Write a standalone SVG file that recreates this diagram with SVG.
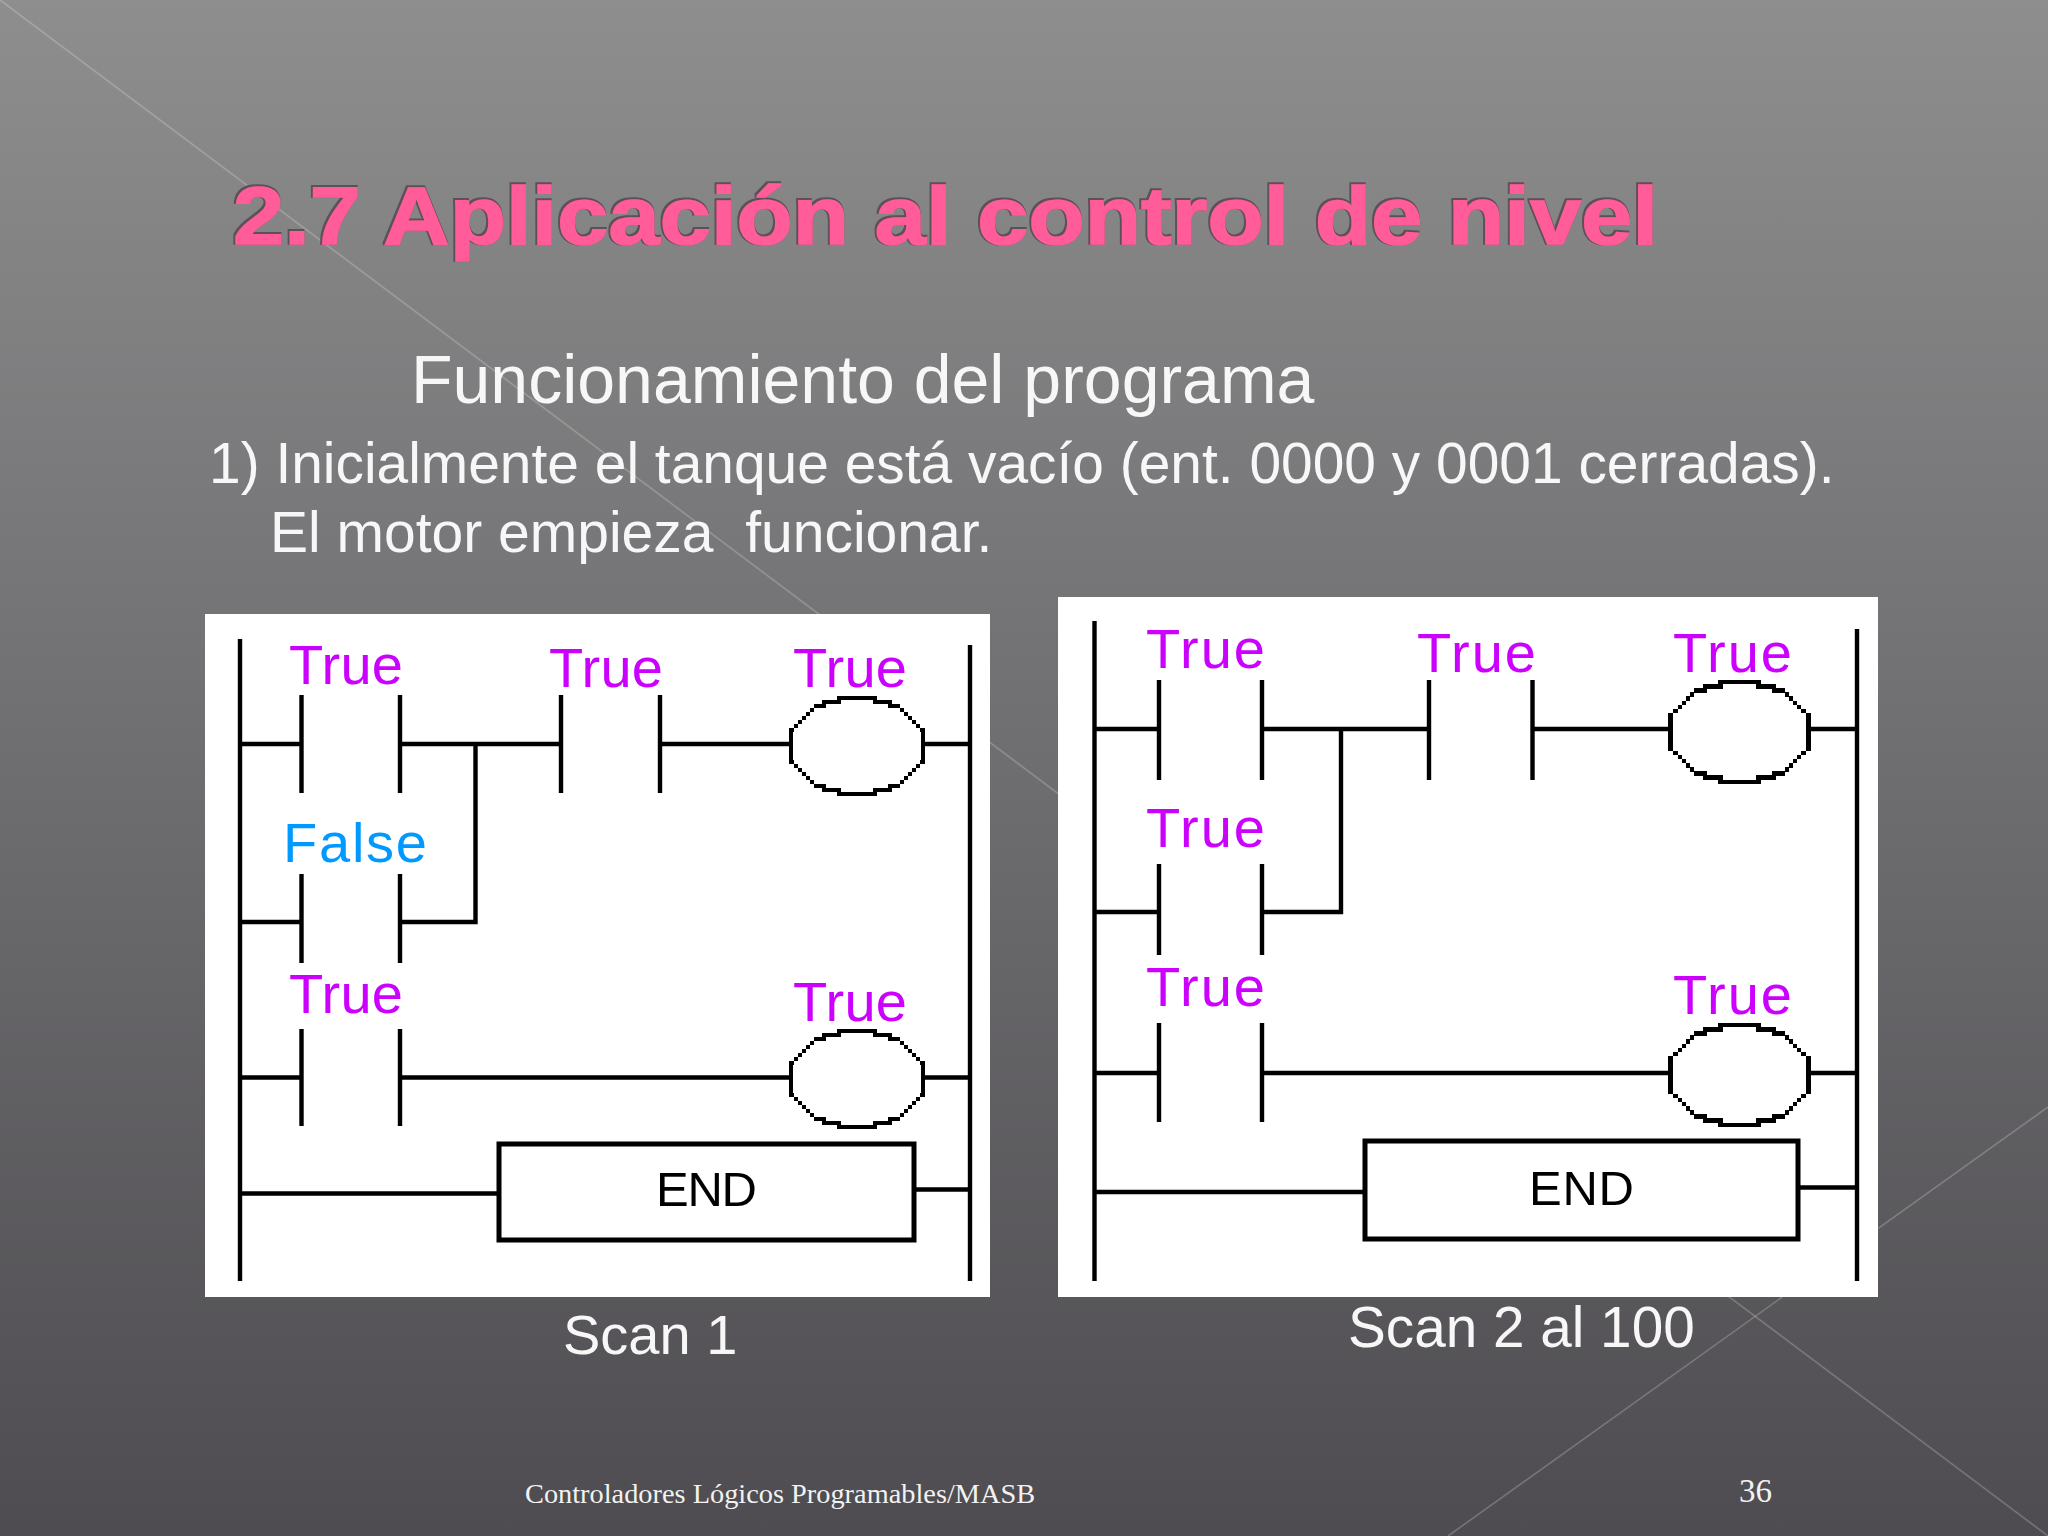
<svg xmlns="http://www.w3.org/2000/svg" width="2048" height="1536" viewBox="0 0 2048 1536">
<style>
.body{fill:#f7f7f7;font-family:"Liberation Sans",Arial,sans-serif;white-space:pre}
.foot{fill:#f2f2f2;font-family:"Liberation Serif","Times New Roman",serif}
.title{fill:#ff5c99;stroke:#ff5c99;stroke-width:1.500;font-family:"Liberation Sans",Arial,sans-serif;font-weight:700;font-size:82px}
.panel{fill:#fff}
.w{stroke:#000;stroke-width:4.4;fill:none}
.box{stroke:#000;stroke-width:5;fill:#fff}
.t{fill:#cc00ff;font-family:"Liberation Sans",Arial,sans-serif;font-size:56px}
.f{fill:#0099ff;font-family:"Liberation Sans",Arial,sans-serif;font-size:56px}
.e{fill:#000;font-family:"Liberation Sans",Arial,sans-serif;font-size:49px}
.bgl{stroke:#fff;stroke-opacity:.22;stroke-width:1.6}
</style>
<defs>
<linearGradient id="bg" x1="0" y1="0" x2="0" y2="1"><stop offset="0" stop-color="#8e8e8e"/><stop offset=".5" stop-color="#6e6d70"/><stop offset="1" stop-color="#4e4c50"/></linearGradient>
<filter id="titlefx" x="-2%" y="-10%" width="104%" height="120%">
<feMorphology in="SourceAlpha" operator="dilate" radius="1.200" result="d"/>
<feOffset in="d" dx="-1" dy="-1.500" result="o"/>
<feGaussianBlur in="o" stdDeviation=".7" result="b"/>
<feFlood flood-color="#5a4a52" flood-opacity=".9"/>
<feComposite in2="b" operator="in" result="s"/>
<feMerge><feMergeNode in="s"/><feMergeNode in="SourceGraphic"/></feMerge>
</filter>
<path id="q" class="w" shape-rendering="crispEdges" d="M0 -48H18V-44H33V-40H43M43 -36H47M47 -32H51M51 -28H55M55 -24H59M59 -20H63M63 -16H66V0"/>
<g id="coil"><use href="#q"/><use href="#q" transform="scale(-1,1)"/><use href="#q" transform="scale(1,-1)"/><use href="#q" transform="scale(-1,-1)"/></g>
</defs>
<rect width="2048" height="1536" fill="url(#bg)"/>
<g id="background-lines"><line class="bgl" x1="0" y1="0" x2="2048" y2="1536"/><line class="bgl" x1="2048" y1="1107" x2="1448" y2="1536"/></g>
<text id="title" class="title" x="233" y="244" textLength="1425" lengthAdjust="spacingAndGlyphs" filter="url(#titlefx)">2.7 Aplicación al control de nivel</text>
<text id="subtitle" class="body" x="411" y="403" font-size="68">Funcionamiento del programa</text>
<text id="line1" class="body" x="209" y="483" font-size="56.900">1) Inicialmente el tanque está vacío (ent. 0000 y 0001 cerradas).</text>
<text id="line2" class="body" x="270" y="552" font-size="57">El motor empieza  funcionar.</text>

<g id="scan1">
<rect class="panel" x="205" y="614" width="785" height="683"/>
<g id="connectors1" class="w">
<path d="M240 639V1281M970 645V1281"/>
<path d="M240 744H301M400 744H561M660 744H790M924 744H970M475.500 744V922M240 922H301M400 922H477.700"/>
<path d="M240 1077.500H301M400 1077.500H790M924 1077.500H970M240 1193.500H498M915 1189.500H970"/>
</g>
<g id="s1-c1"><path class="w" d="M301.500 695V793M400 695V793"/><text class="t" x="289" y="684" textLength="114">True</text></g>
<g id="s1-c2"><path class="w" d="M561 695V793M660 695V793"/><text class="t" x="549" y="687" textLength="114">True</text></g>
<g id="s1-coil1"><use href="#coil" transform="translate(857,746)"/><text class="t" x="793" y="687" textLength="114">True</text></g>
<g id="s1-c3"><path class="w" d="M301.500 874V963M400 874V963"/><text class="f" x="283" y="862" textLength="144">False</text></g>
<g id="s1-c4"><path class="w" d="M301.500 1029V1126M400 1029V1126"/><text class="t" x="289" y="1013" textLength="114">True</text></g>
<g id="s1-coil2"><use href="#coil" transform="translate(857,1079)"/><text class="t" x="793" y="1021" textLength="114">True</text></g>
<g id="s1-end"><rect class="box" x="499" y="1144" width="415" height="96"/><text class="e" x="656" y="1206" textLength="101">END</text></g>
</g>

<g id="scan2">
<rect class="panel" x="1058" y="597" width="820" height="700"/>
<g id="connectors2" class="w">
<path d="M1094.500 621V1281M1857 629V1281"/>
<path d="M1094 729H1159M1262 729H1429M1532 729H1670M1809 729H1857M1341 729V914M1094 912H1159M1262 912H1343"/>
<path d="M1094 1073H1159M1262 1073H1670M1809 1073H1857M1094 1192H1364M1799 1187.500H1857"/>
</g>
<g id="s2-c1"><path class="w" d="M1159 680V780M1262 680V780"/><text class="t" x="1146" y="668" textLength="119">True</text></g>
<g id="s2-c2"><path class="w" d="M1429 680V780M1532.500 680V780"/><text class="t" x="1417" y="672" textLength="119">True</text></g>
<g id="s2-coil1"><use href="#coil" transform="translate(1739.500,732) scale(1.05,1.04)"/><text class="t" x="1673" y="672" textLength="119">True</text></g>
<g id="s2-c3"><path class="w" d="M1159 864V955M1262 864V955"/><text class="t" x="1146" y="847" textLength="119">True</text></g>
<g id="s2-c4"><path class="w" d="M1159 1023V1122M1262 1023V1122"/><text class="t" x="1146" y="1006" textLength="119">True</text></g>
<g id="s2-coil2"><use href="#coil" transform="translate(1739.500,1075) scale(1.05,1.04)"/><text class="t" x="1673" y="1014" textLength="119">True</text></g>
<g id="s2-end"><rect class="box" x="1365" y="1141" width="433" height="98"/><text class="e" x="1529" y="1205" textLength="105">END</text></g>
</g>

<text id="scan1-label" class="body" x="563" y="1354" font-size="56">Scan 1</text>
<text id="scan2-label" class="body" x="1348" y="1347" font-size="56.700">Scan 2 al 100</text>
<text id="footer" class="foot" x="525" y="1503" font-size="28.350">Controladores Lógicos Programables/MASB</text>
<text id="page" class="foot" x="1739" y="1502" font-size="33">36</text>
</svg>
